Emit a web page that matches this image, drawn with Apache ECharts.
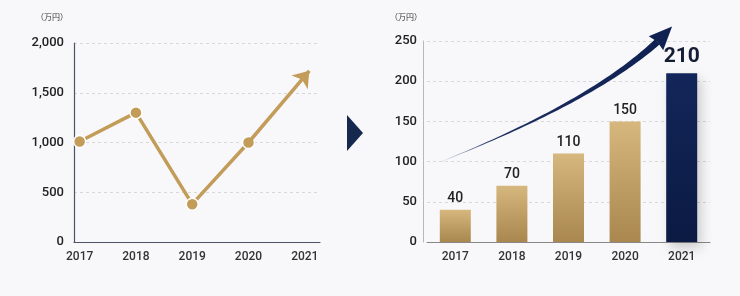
<!DOCTYPE html>
<html><head><meta charset="utf-8">
<script src="https://cdn.jsdelivr.net/npm/echarts@6/dist/echarts.min.js"></script>
<style>html,body{margin:0;padding:0;background:#f8f8fa}#c{width:740px;height:296px}</style>
</head><body><div id="c"></div>
<script>
// ---- data ----
const years = [2017, 2018, 2019, 2020, 2021];
const leftYears = [2017, 2018, 2019, 2020];
const leftValues = [1010, 1300, 380, 1000];
const leftArrowEnd = [2021.08, 1720];
const barCategories = ['2017', '2018', '2019', '2020', '2021'];
const barValues = [40, 70, 110, 150, 210];
const unitLabel = '（万円）';
// trend arrow anchors in data space (category index, value): start, control, head base, tip
const trendArrow = [[-0.25, 100], [2.42, 175], [3.57, 249], [3.83, 268]];

const gold = '#c29c58';
const navy = '#0f2150';
const font = 'Roboto, "Noto Sans", "Noto Sans CJK JP", sans-serif';

const chart = echarts.init(document.getElementById('c'));

function arrowRender(params, api) {
  // category axis: interpolate between integer category positions
  const c0 = api.coord([0, 0]), c1 = api.coord([1, 0]);
  const step = c1[0] - c0[0];
  const P = d => [c0[0] + d[0] * step, api.coord([0, d[1]])[1]];
  const p0 = P(trendArrow[0]);
  const p1 = P(trendArrow[1]);
  const p2 = P(trendArrow[2]);
  const tip = P(trendArrow[3]);
  const N = 50, left = [], right = [];
  for (let i = 0; i <= N; i++) {
    const t = i / N, u = 1 - t;
    const x = u*u*p0[0] + 2*u*t*p1[0] + t*t*p2[0];
    const y = u*u*p0[1] + 2*u*t*p1[1] + t*t*p2[1];
    const dx = 2*u*(p1[0]-p0[0]) + 2*t*(p2[0]-p1[0]);
    const dy = 2*u*(p1[1]-p0[1]) + 2*t*(p2[1]-p1[1]);
    const l = Math.hypot(dx, dy);
    const nx = -dy / l, ny = dx / l;
    const w = (0.3 + 6.6 * Math.pow(t, 1.2)) / 2;
    left.push([x + nx*w, y + ny*w]);
    right.push([x - nx*w, y - ny*w]);
  }
  const body = left.concat(right.reverse());
  const ddx = tip[0] - p2[0], ddy = tip[1] - p2[1];
  const L = Math.hypot(ddx, ddy);
  const hx = -ddy / L * 10, hy = ddx / L * 10;
  const back = [p2[0] - ddx/L*2, p2[1] - ddy/L*2];
  return {
    type: 'group',
    children: [
      { type: 'polygon', shape: { points: body },
        style: { fill: { type: 'linear', x: 0, y: 0, x2: 1, y2: 0,
          colorStops: [{ offset: 0, color: '#b9c1d2' }, { offset: 0.25, color: '#1d2f62' }, { offset: 1, color: navy }] } } },
      { type: 'polygon', shape: { points: [[back[0]+hx, back[1]+hy], tip, [back[0]-hx, back[1]-hy], p2] },
        style: { fill: navy } }
    ]
  };
}

chart.setOption({
  backgroundColor: '#f8f8fa',
  animation: false,
  textStyle: { fontFamily: font },
  graphic: [
    { type: 'text', left: 36, top: 14, style: { text: unitLabel, fontSize: 8, fill: '#333', fontFamily: font } },
    { type: 'text', left: 390, top: 14, style: { text: unitLabel, fontSize: 8, fill: '#333', fontFamily: font } },
    { type: 'polygon', shape: { points: [[347, 115], [363, 133], [347, 151]] }, style: { fill: '#17284f' } }
  ],
  grid: [
    { left: 74, right: 420, top: 43, bottom: 54 },
    { left: 427, right: 30, top: 41, bottom: 54 }
  ],
  xAxis: [
    { type: 'value', gridIndex: 0, min: 2016.9, max: 2021.27,
      axisLine: { show: true, lineStyle: { color: '#4d5565', width: 1.2 } },
      axisTick: { show: false }, splitLine: { show: false },
      axisLabel: { customValues: years, formatter: v => String(v), color: '#333', fontSize: 12, margin: 9, fontWeight: 500 } },
    { type: 'category', gridIndex: 1, data: barCategories,
      axisLine: { lineStyle: { color: '#888', width: 1 } },
      axisTick: { show: false },
      axisLabel: { color: '#333', fontSize: 12, margin: 9, fontWeight: 500 } }
  ],
  yAxis: [
    { type: 'value', gridIndex: 0, min: 0, max: 2000, interval: 500,
      axisLine: { show: true, lineStyle: { color: '#4d5565', width: 1.2 } },
      axisTick: { show: false },
      splitLine: { lineStyle: { color: '#d8d8d8', type: [3, 3] } },
      axisLabel: { color: '#222', fontSize: 13, margin: 10, fontWeight: 500,
        formatter: v => v.toLocaleString('en-US') } },
    { type: 'value', gridIndex: 1, min: 0, max: 250, interval: 50, offset: 4,
      axisLine: { show: true, lineStyle: { color: '#b8b8b8', width: 1 } },
      axisTick: { show: false },
      splitLine: { lineStyle: { color: '#d8d8d8', type: [3, 3] } },
      axisLabel: { color: '#222', fontSize: 13, margin: 6, fontWeight: 500 } }
  ],
  series: [
    { type: 'line', xAxisIndex: 0, yAxisIndex: 0,
      data: leftYears.map((y, i) => [y, leftValues[i]]),
      symbol: 'circle', symbolSize: 12,
      lineStyle: { color: gold, width: 3.5 },
      itemStyle: { color: gold, borderColor: '#fff', borderWidth: 1.5 },
      z: 3,
      markLine: {
        silent: true, symbol: ['none', 'arrow'], symbolSize: [16, 15],
        lineStyle: { color: gold, width: 3.5, type: 'solid' },
        label: { show: false },
        data: [[{ coord: [leftYears[3], leftValues[3]] }, { coord: leftArrowEnd }]]
      } },
    { type: 'bar', xAxisIndex: 1, yAxisIndex: 1, barWidth: 31,
      data: barValues.map((v, i) => {
        const last = i === barValues.length - 1;
        return {
          value: v,
          itemStyle: last ? {
            color: { type: 'linear', x: 0, y: 0, x2: 0, y2: 1,
              colorStops: [{ offset: 0, color: '#132659' }, { offset: 1, color: '#0b1a43' }] },
            shadowBlur: 12, shadowColor: 'rgba(0,0,0,0.18)', shadowOffsetY: 6, shadowOffsetX: 4
          } : {
            color: { type: 'linear', x: 0, y: 0, x2: 0, y2: 1,
              colorStops: [{ offset: 0, color: '#d6b77d' }, { offset: 1, color: '#a9874f' }] }
          },
          label: last ? { fontSize: 21, fontWeight: 'bold', color: '#141c36', distance: 6 } : {}
        };
      }),
      label: { show: true, position: 'top', color: '#222', fontSize: 14, fontWeight: 500, distance: 4, fontFamily: font } },
    { type: 'custom', xAxisIndex: 1, yAxisIndex: 1, clip: false, silent: true, z: 4,
      data: [[0, 0]], renderItem: arrowRender }
  ]
});
</script></body></html>
